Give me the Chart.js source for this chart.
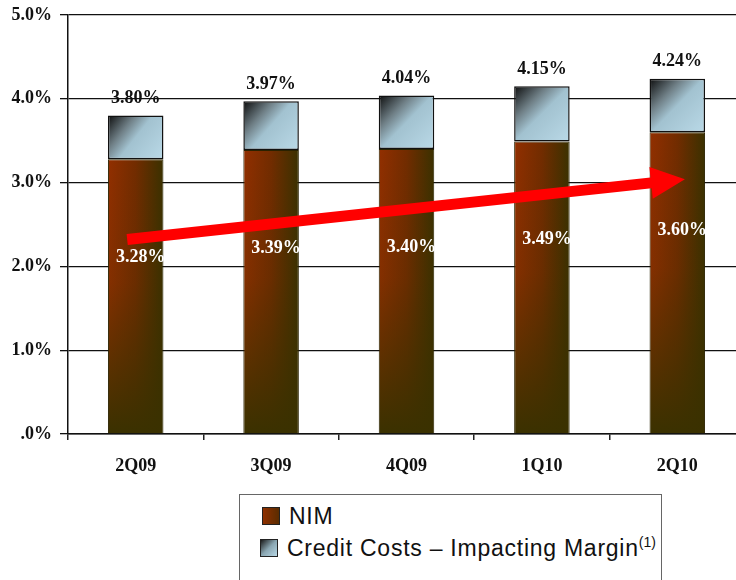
<!DOCTYPE html>
<html>
<head>
<meta charset="utf-8">
<script src="https://cdn.jsdelivr.net/npm/chart.js@4"></script>
<style>
  html, body { margin: 0; padding: 0; background: #fff; overflow: hidden; }
  #wrap { position: relative; width: 736px; height: 580px; overflow: hidden; }
  #chart-canvas { position: absolute; left: 0; top: 0; }
  #legend {
    position: absolute; left: 239px; top: 494px; width: 421px; height: 100px;
    border: 1.5px solid #666; background: #fff;
    font-family: "Liberation Sans", Arial, sans-serif; font-size: 23px; letter-spacing: 0.75px; color: #111;
  }
  .item { position: absolute; left: 22px; white-space: nowrap; line-height: 26px; }
  .swatch { display: inline-block; width: 16px; height: 16px; border: 1px solid #222; vertical-align: -1px; margin-right: 9px; }
  .nim { background: linear-gradient(90deg, #8f3000, #5a2c00); }
  .credit { background: linear-gradient(135deg, #1a1a1a 0%, #8aa6b2 50%, #b8d8e6 100%); }
  sup { font-size: 14px; letter-spacing: 0; vertical-align: 9px; line-height: 0; }
</style>
</head>
<body>
<div id="wrap">
  <canvas id="chart-canvas" width="745" height="580" style="width:745px;height:580px"></canvas>
  <div id="legend">
    <div class="item" style="top:8px"><span class="swatch nim"></span>NIM</div>
    <div class="item" style="top:40px;left:20px"><span class="swatch credit"></span>Credit Costs – Impacting Margin<sup>(1)</sup></div>
  </div>
</div>
<script>
// values
const quarters = ['2Q09', '3Q09', '4Q09', '1Q10', '2Q10'];
const nimValues = [3.28, 3.39, 3.40, 3.49, 3.60];
const creditValues = [0.52, 0.58, 0.64, 0.66, 0.64];
// trend arrow, in category index / percent units
const arrowFrom = [-0.063, 2.32];
const arrowTo = [4.056, 3.04];

const serif = '"Liberation Serif", "Times New Roman", serif';
const barShare = 0.41;

// brown bar: red-brown on the left, dark olive on the right and at the bottom
function nimFill(context) {
  const chart = context.chart;
  const x = chart.scales && chart.scales.x;
  const y = chart.scales && chart.scales.y;
  if (!x || !y || !chart.chartArea) return '#6a2c00';
  const i = context.dataIndex;
  const cx = x.getPixelForValue(i);
  const w = x.width / quarters.length * barShare;
  const top = y.getPixelForValue(nimValues[i]);
  const bot = y.getPixelForValue(0);
  const off = document.createElement('canvas');
  off.width = chart.width;
  off.height = chart.height;
  const g = off.getContext('2d');
  const h = g.createLinearGradient(cx - w / 2, 0, cx + w / 2, 0);
  h.addColorStop(0, '#922f00');
  h.addColorStop(0.5, '#722c00');
  h.addColorStop(1, '#3a3100');
  g.fillStyle = h;
  g.fillRect(cx - w / 2 - 2, top - 2, w + 4, bot - top + 4);
  const v = g.createLinearGradient(0, top, 0, bot);
  v.addColorStop(0, 'rgba(58,49,0,0)');
  v.addColorStop(0.45, 'rgba(58,49,0,0.15)');
  v.addColorStop(1, 'rgba(58,49,0,1)');
  g.fillStyle = v;
  g.fillRect(cx - w / 2 - 2, top - 2, w + 4, bot - top + 4);
  return chart.ctx.createPattern(off, 'no-repeat');
}

// grey-blue cap: dark in the top left corner, light blue towards bottom right
function creditFill(context) {
  const chart = context.chart;
  const x = chart.scales && chart.scales.x;
  const y = chart.scales && chart.scales.y;
  if (!x || !y || !chart.chartArea) return '#a8c8d8';
  const i = context.dataIndex;
  const cx = x.getPixelForValue(i);
  const w = x.width / quarters.length * barShare;
  const top = y.getPixelForValue(nimValues[i] + creditValues[i]);
  const bot = y.getPixelForValue(nimValues[i]);
  const grad = chart.ctx.createLinearGradient(cx - w / 2, top, cx + w / 2, bot);
  grad.addColorStop(0, '#0c0c0c');
  grad.addColorStop(0.3, '#6f7f86');
  grad.addColorStop(0.5, '#a2c2d0');
  grad.addColorStop(1, '#bad9e7');
  return grad;
}

const labelPlugin = {
  id: 'labels',
  afterDatasetsDraw(chart) {
    const ctx = chart.ctx;
    const x = chart.scales.x;
    const y = chart.scales.y;

    // red trend arrow
    const step = x.getPixelForValue(1) - x.getPixelForValue(0);
    const x0 = x.getPixelForValue(0) + arrowFrom[0] * step;
    const y0 = y.getPixelForValue(arrowFrom[1]);
    const x1 = x.getPixelForValue(0) + arrowTo[0] * step;
    const y1 = y.getPixelForValue(arrowTo[1]);
    const len = Math.hypot(x1 - x0, y1 - y0);
    const ux = (x1 - x0) / len, uy = (y1 - y0) / len;
    const px = -uy, py = ux;
    const headLen = 34, headHalf = 16, shaftHalf = 5.5;
    const bx = x1 - ux * headLen, by = y1 - uy * headLen;
    ctx.save();
    ctx.fillStyle = '#ff0000';
    ctx.beginPath();
    ctx.moveTo(x0 + px * shaftHalf, y0 + py * shaftHalf);
    ctx.lineTo(bx + px * shaftHalf, by + py * shaftHalf);
    ctx.lineTo(bx + px * headHalf, by + py * headHalf);
    ctx.lineTo(x1, y1);
    ctx.lineTo(bx - px * headHalf, by - py * headHalf);
    ctx.lineTo(bx - px * shaftHalf, by - py * shaftHalf);
    ctx.lineTo(x0 - px * shaftHalf, y0 - py * shaftHalf);
    ctx.closePath();
    ctx.fill();

    // value labels
    ctx.font = 'bold 18px ' + serif;
    ctx.textAlign = 'center';
    ctx.textBaseline = 'middle';
    chart.getDatasetMeta(0).data.forEach((bar, i) => {
      ctx.fillStyle = '#ffffff';
      ctx.fillText(nimValues[i].toFixed(2) + '%', bar.x + 5, bar.y + 98);
    });
    chart.getDatasetMeta(1).data.forEach((bar, i) => {
      ctx.fillStyle = '#111111';
      ctx.fillText((nimValues[i] + creditValues[i]).toFixed(2) + '%', bar.x, bar.y - 17);
    });
    ctx.restore();
  }
};

const ctx = document.getElementById('chart-canvas').getContext('2d');
new Chart(ctx, {
  type: 'bar',
  data: {
    labels: quarters,
    datasets: [
      {
        label: 'NIM',
        data: nimValues,
        backgroundColor: nimFill,
        borderColor: '#2a2200',
        borderWidth: 1,
        barPercentage: barShare,
        categoryPercentage: 1
      },
      {
        label: 'Credit Costs – Impacting Margin',
        data: creditValues,
        backgroundColor: creditFill,
        borderColor: '#111111',
        borderWidth: 1.5,
        borderSkipped: false,
        barPercentage: barShare,
        categoryPercentage: 1
      }
    ]
  },
  options: {
    responsive: false,
    animation: false,
    devicePixelRatio: 1,
    layout: { padding: { top: 15, left: 0, right: 0, bottom: 0 } },
    plugins: {
      legend: { display: false },
      tooltip: { enabled: false }
    },
    scales: {
      x: {
        stacked: true,
        afterFit: scale => { scale.height = 146; },
        grid: { drawOnChartArea: false, drawTicks: true, tickLength: 6, color: '#222', lineWidth: 1.5 },
        border: { display: true, color: '#111', width: 1.5 },
        ticks: { color: '#111', padding: 16, font: { family: serif, size: 18, weight: 'bold' } }
      },
      y: {
        stacked: true,
        min: 0,
        max: 5,
        afterFit: scale => { scale.width = 68; scale.paddingTop = 0; scale.paddingBottom = 0; },
        grid: { color: '#111', lineWidth: 1.3, tickLength: 8 },
        border: { display: true, color: '#111', width: 1.5 },
        ticks: {
          stepSize: 1,
          color: '#111',
          padding: 8,
          font: { family: serif, size: 18, weight: 'bold' },
          callback: v => v === 0 ? '.0%' : v.toFixed(1) + '%'
        }
      }
    }
  },
  plugins: [labelPlugin]
});
</script>
</body>
</html>
